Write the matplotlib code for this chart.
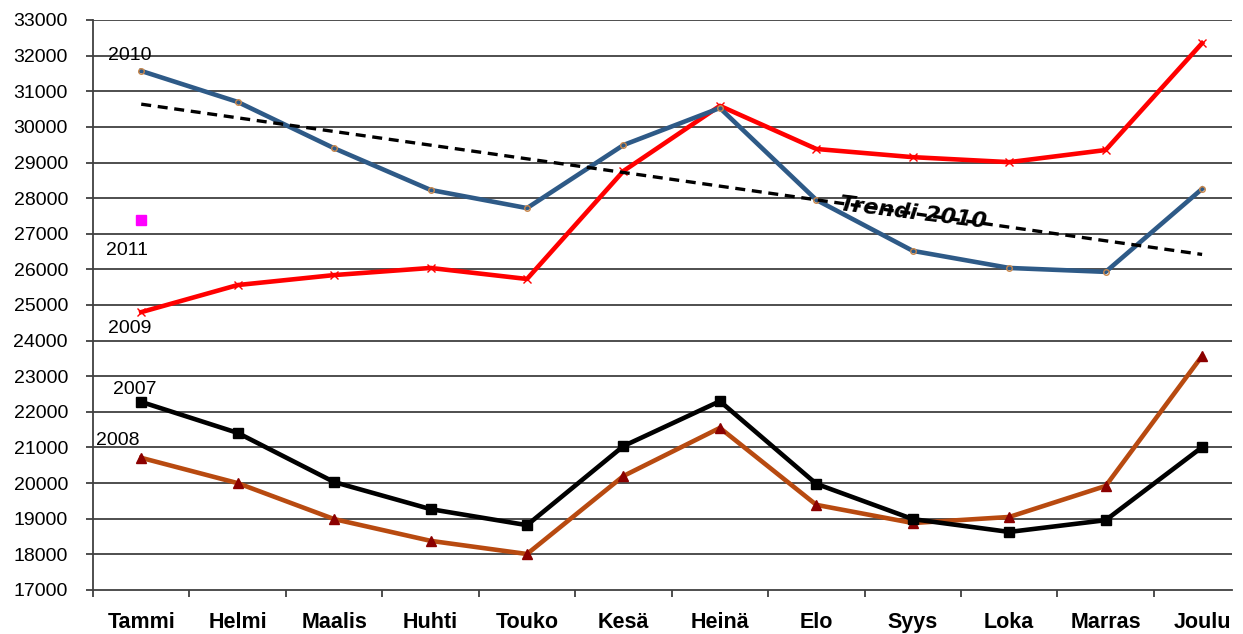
import matplotlib
matplotlib.use('Agg')
import matplotlib.pyplot as plt
import numpy as np

plt.rcParams['font.family'] = ['Liberation Sans', 'DejaVu Sans']

months = ['Tammi', 'Helmi', 'Maalis', 'Huhti', 'Touko', 'Kesä',
          'Heinä', 'Elo', 'Syys', 'Loka', 'Marras', 'Joulu']

y2007 = [22280, 21410, 20030, 19270, 18820, 21040, 22300, 19980, 18990, 18630, 18960, 21010]
y2008 = [20710, 20000, 18990, 18380, 18010, 20200, 21550, 19390, 18880, 19050, 19920, 23570]
y2009 = [24800, 25560, 25840, 26040, 25730, 28760, 30590, 29380, 29150, 29010, 29350, 32350]
y2010 = [31570, 30700, 29400, 28230, 27720, 29490, 30530, 27950, 26520, 26040, 25930, 28260]
y2011 = [27390]

x = np.arange(len(months))

fig = plt.figure(figsize=(12.43, 6.34), dpi=100)
ax = fig.add_axes([93/1243, 44/634, (1232-93)/1243, 570/634])

# grid
for v in range(18000, 33001, 1000):
    ax.axhline(v, color='#404040', lw=1.3, zorder=1)

ax.plot(x, y2008, color='#B84A10', lw=3.3, marker='^', ms=7,
        mfc='#8B0000', mec='#8B0000', zorder=3)
ax.plot(x, y2007, color='black', lw=3.3, marker='s', ms=7, zorder=3)
ax.plot(x, y2009, color='#FF0000', lw=3.3, marker='x', ms=6, mew=1, zorder=3)
ax.plot(x, y2010, color='#2E5A87', lw=3.3, marker='o', ms=4,
        mfc='none', mec='#C8864A', mew=1, zorder=4)
ax.plot(x[:1], y2011, ls='none', marker='s', ms=7, color='#FF00FF', zorder=4)

# trendline for 2010
k, b = np.polyfit(x, y2010, 1)
ax.plot(x, k*x + b, color='black', lw=2.4, ls=(0, (3, 2)), zorder=5)
ax.text(8.0, 27580, 'Trendi 2010', fontsize=16, fontweight='bold',
        fontstyle='italic', family=['DejaVu Sans'], rotation=-7,
        ha='center', va='center', zorder=6)

# series labels
ax.text(-0.12, 32000, '2010', fontsize=14, ha='center', va='center')
ax.text(-0.15, 26530, '2011', fontsize=14, ha='center', va='center')
ax.text(-0.12, 24340, '2009', fontsize=14, ha='center', va='center')
ax.text(-0.07, 22630, '2007', fontsize=14, ha='center', va='center')
ax.text(-0.24, 21200, '2008', fontsize=14, ha='center', va='center')

ax.set_yticks(range(17000, 33001, 1000))
ax.set_xticks(x)
ax.set_xticklabels(months, fontsize=15.5, fontweight='bold')
ax.set_xticks(np.arange(-0.5, 11.0, 1), minor=True)
ax.set_xlim(-0.5, 11.31)
ax.set_ylim(17000, 33000)
ax.tick_params(axis='x', which='major', length=0, pad=16)
ax.tick_params(axis='x', which='minor', length=5, width=1.3, color='#404040')
ax.tick_params(axis='y', length=5, width=1.3, color='#404040', labelsize=14, pad=13)

for s in ['top', 'right']:
    ax.spines[s].set_visible(False)
for s in ['left', 'bottom']:
    ax.spines[s].set_color('#404040')
    ax.spines[s].set_linewidth(1.3)

fig.savefig('out.png', dpi=100)
